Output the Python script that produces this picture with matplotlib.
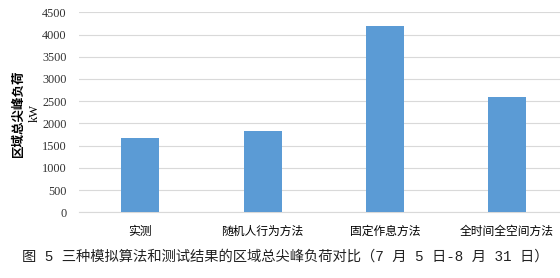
import matplotlib
matplotlib.use('Agg')
import matplotlib.pyplot as plt

plt.rcParams['font.family'] = ['Noto Sans CJK SC', 'DejaVu Sans']

categories = ['实测', '随机人行为方法', '固定作息方法', '全时间全空间方法']
peak_load = [1665, 1823, 4199, 2588]
yticks = [0, 500, 1000, 1500, 2000, 2500, 3000, 3500, 4000, 4500]

fig = plt.figure(figsize=(5.6, 2.78), dpi=100)
ax = fig.add_axes([0.1415, 0.2363, 0.873, 0.7194])

x = range(len(categories))
ax.bar(x, peak_load, width=0.31, color='#5B9BD5', zorder=3)

ax.set_xlim(-0.5, 3.5)
ax.set_ylim(0, 4500)
ax.set_yticks(yticks)
ax.set_yticklabels([str(v) for v in yticks], family='Liberation Serif', fontsize=8.8, color='#333333')
ax.set_xticks(list(x))
ax.set_xticklabels(categories, fontsize=8.5, color='#000000')
ax.tick_params(axis='both', length=0)
ax.tick_params(axis='y', pad=9)
ax.tick_params(axis='x', pad=9)

ax.grid(axis='y', color='#D9D9D9', linewidth=0.8, zorder=0)
for s in ['top', 'right', 'left']:
    ax.spines[s].set_visible(False)
ax.spines['bottom'].set_color('#D9D9D9')
ax.spines['bottom'].set_linewidth(0.8)

# y-axis title: two lines, rotated
fig.text(0.033, 0.594, '区域总尖峰负荷', rotation=90, ha='center', va='center',
         fontsize=9, fontweight='bold')
fig.text(0.0625, 0.594, 'kW', rotation=90, ha='center', va='center',
         fontsize=9, family='Liberation Serif')

fig.text(0.039, 0.077, '图 5 三种模拟算法和测试结果的区域总尖峰负荷对比（7 月 5 日-8 月 31 日）',
         ha='left', va='center', fontsize=10.3, color='#222222',
         family=['Liberation Mono', 'Noto Sans CJK SC'])

fig.savefig('out.png', dpi=100)
